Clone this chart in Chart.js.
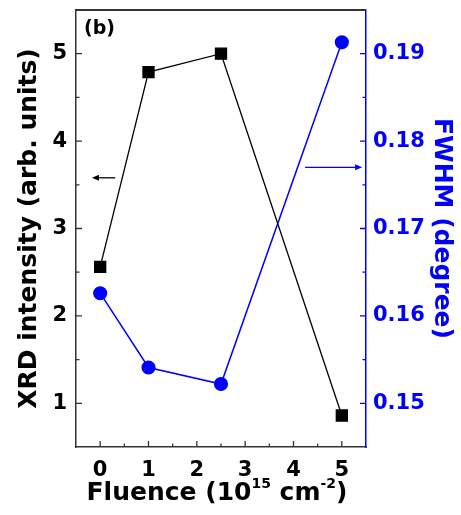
<!DOCTYPE html>
<html>
<head>
<meta charset="utf-8">
<title>XRD intensity and FWHM vs fluence</title>
<script src="https://cdn.jsdelivr.net/npm/chart.js"></script>
<style>
  html, body { margin: 0; padding: 0; background: #fff; }
  #wrap { width: 461px; height: 515px; position: relative; }
</style>
</head>
<body>
<div id="wrap"><canvas id="myChart"></canvas></div>
<script>
// data
var fluence = [0, 1, 2.5, 5];
var xrdIntensity = [2.56, 4.79, 5.0, 0.86];
var fwhm = [0.1626, 0.1541, 0.1522, 0.1913];

var xTicks = [0, 1, 2, 3, 4, 5];
var xMinor = [0.5, 1.5, 2.5, 3.5, 4.5];
var leftTicks = [1, 2, 3, 4, 5];
var leftMinor = [1.5, 2.5, 3.5, 4.5];
var rightTicks = [0.15, 0.16, 0.17, 0.18, 0.19];
var rightMinor = [0.155, 0.165, 0.175, 0.185];

var FONT = '"DejaVu Sans", sans-serif';
var BLUE = '#0000ff';

function pts(xs, ys) {
  return xs.map(function (x, i) { return { x: x, y: ys[i] }; });
}
function setTicks(list) {
  return function (scale) {
    scale.ticks = list.map(function (v) { return { value: v }; });
  };
}
// fixed box sizes, no extra label padding so the plot area lands where the figure has it
function fixY(width) {
  return function (s) { s.width = width; s.paddingTop = 0; s.paddingBottom = 0; };
}

// inner ticks, top frame, arrows, panel label and x title
var extras = {
  id: 'extras',
  afterDraw: function (chart) {
    var ctx = chart.ctx, a = chart.chartArea;
    var sx = chart.scales.x, sl = chart.scales.y, sr = chart.scales.y2;
    ctx.save();

    // top frame
    ctx.strokeStyle = '#333';
    ctx.lineWidth = 2;
    ctx.beginPath();
    ctx.moveTo(a.left, a.top);
    ctx.lineTo(a.right, a.top);
    ctx.stroke();

    // ticks
    ctx.lineWidth = 1.3;
    ctx.strokeStyle = '#333';
    ctx.beginPath();
    xTicks.forEach(function (v) { var p = sx.getPixelForValue(v); ctx.moveTo(p, a.bottom); ctx.lineTo(p, a.bottom - 6); });
    xMinor.forEach(function (v) { var p = sx.getPixelForValue(v); ctx.moveTo(p, a.bottom); ctx.lineTo(p, a.bottom - 3.5); });
    leftTicks.forEach(function (v) { var p = sl.getPixelForValue(v); ctx.moveTo(a.left, p); ctx.lineTo(a.left + 6, p); });
    leftMinor.forEach(function (v) { var p = sl.getPixelForValue(v); ctx.moveTo(a.left, p); ctx.lineTo(a.left + 3.5, p); });
    ctx.stroke();
    ctx.strokeStyle = BLUE;
    ctx.beginPath();
    rightTicks.forEach(function (v) { var p = sr.getPixelForValue(v); ctx.moveTo(a.right, p); ctx.lineTo(a.right - 6, p); });
    rightMinor.forEach(function (v) { var p = sr.getPixelForValue(v); ctx.moveTo(a.right, p); ctx.lineTo(a.right - 3.5, p); });
    ctx.stroke();

    // arrows pointing to each axis
    function arrow(x1, x2, y, color) {
      var dir = x2 > x1 ? 1 : -1;
      ctx.strokeStyle = color; ctx.fillStyle = color; ctx.lineWidth = 1.3;
      ctx.beginPath(); ctx.moveTo(x1, y); ctx.lineTo(x2 - dir * 5, y); ctx.stroke();
      ctx.beginPath(); ctx.moveTo(x2, y); ctx.lineTo(x2 - dir * 7, y - 3); ctx.lineTo(x2 - dir * 7, y + 3); ctx.closePath(); ctx.fill();
    }
    var yl = sl.getPixelForValue(3.58);
    arrow(sx.getPixelForValue(0.31), sx.getPixelForValue(-0.17), yl, '#000');
    var yr = sr.getPixelForValue(0.177);
    arrow(sx.getPixelForValue(4.24), sx.getPixelForValue(5.42), yr, BLUE);

    // panel label
    ctx.fillStyle = '#000';
    ctx.font = 'bold 19px ' + FONT;
    ctx.textBaseline = 'alphabetic';
    ctx.textAlign = 'left';
    ctx.fillText('(b)', a.left + 8, a.top + 24);

    // x axis title with superscripts
    var big = 'bold 25px ' + FONT, small = 'bold 14px ' + FONT;
    var parts = [['Fluence (10', big, 0], ['15', small, -12], [' cm', big, 0], ['-2', small, -12], [')', big, 0]];
    var w = 0;
    parts.forEach(function (p) { ctx.font = p[1]; w += ctx.measureText(p[0]).width; });
    var x = (a.left + a.right) / 2 - w / 2 - 4, y = 500;
    parts.forEach(function (p) {
      ctx.font = p[1];
      ctx.fillText(p[0], x, y + p[2]);
      x += ctx.measureText(p[0]).width;
    });
    ctx.restore();
  }
};

var ctx = document.getElementById('myChart').getContext('2d');
var myChart = new Chart(ctx, {
  type: 'scatter',
  data: {
    datasets: [{
      label: 'XRD intensity',
      data: pts(fluence, xrdIntensity),
      yAxisID: 'y',
      showLine: true,
      borderColor: '#000',
      backgroundColor: '#000',
      borderWidth: 1.3,
      pointStyle: 'rect',
      pointRadius: 7.8,
      pointHoverRadius: 7.8
    }, {
      label: 'FWHM',
      data: pts(fluence, fwhm),
      yAxisID: 'y2',
      showLine: true,
      borderColor: BLUE,
      backgroundColor: BLUE,
      borderWidth: 1.5,
      pointStyle: 'circle',
      pointRadius: 6.3,
      pointHoverRadius: 6.3
    }]
  },
  options: {
    responsive: true,
    maintainAspectRatio: false,
    animation: false,
    layout: { padding: { top: 10, left: 0, right: 0, bottom: 0 } },
    plugins: { legend: { display: false }, tooltip: { enabled: false } },
    scales: {
      x: {
        type: 'linear',
        min: -0.5, max: 5.5,
        afterBuildTicks: setTicks(xTicks),
        afterFit: function (s) { s.height = 68; s.paddingLeft = 0; s.paddingRight = 0; },
        grid: { display: false, drawTicks: false },
        border: { display: true, color: '#333', width: 1.5 },
        ticks: { color: '#000', padding: 11, font: { family: FONT, size: 21, weight: 'bold' } }
      },
      y: {
        type: 'linear', position: 'left',
        min: 0.5, max: 5.5,
        afterBuildTicks: setTicks(leftTicks),
        afterFit: fixY(76),
        grid: { display: false, drawTicks: false },
        border: { display: true, color: '#333', width: 1.5 },
        ticks: { color: '#000', padding: 9, font: { family: FONT, size: 21, weight: 'bold' } },
        title: { display: true, text: 'XRD intensity (arb. units)', color: '#000',
          padding: { top: 14, bottom: 0 }, font: { family: FONT, size: 25, weight: 'bold' } }
      },
      y2: {
        type: 'linear', position: 'right',
        min: 0.145, max: 0.195,
        afterBuildTicks: setTicks(rightTicks),
        afterFit: fixY(95),
        grid: { display: false, drawTicks: false },
        border: { display: true, color: BLUE, width: 1.5 },
        ticks: { color: BLUE, padding: 7, font: { family: FONT, size: 21, weight: 'bold' },
          callback: function (v) { return v.toFixed(2); } },
        title: { display: true, text: 'FWHM (degree)', color: BLUE,
          padding: { top: 5, bottom: 0 }, font: { family: FONT, size: 25, weight: 'bold' } }
      }
    }
  },
  plugins: [extras]
});
</script>
</body>
</html>
